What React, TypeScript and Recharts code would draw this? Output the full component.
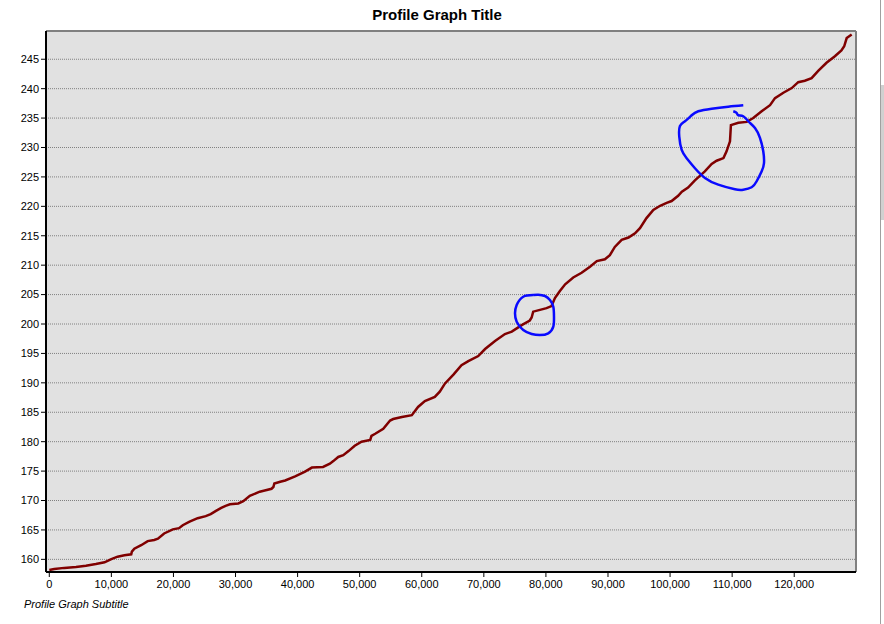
import { LineChart, Line, XAxis, YAxis, CartesianGrid, ReferenceLine } from 'recharts';

// profile: distance along the path (m) and elevation
const distances = [
  0, 800, 2400, 4300, 5900, 7500, 8900, 9900, 11000, 12100, 13200, 13300, 13700, 14800, 15850, 16900,
  17500, 18500, 19900, 20900, 21500, 22600, 23900, 25200, 26000, 26850, 27700, 28400, 29100, 30450,
  31250, 32300, 33900, 34700, 35800, 36100, 36250, 37200, 38000, 39600, 41200, 42300, 44100, 45200,
  45750, 46550, 47350, 48200, 49200, 50300, 51700, 51900, 52500, 53800, 54900, 55400, 56800, 58400,
  59400, 60500, 62100, 62900, 63750, 65100, 66400, 67500, 69100, 70200, 71800, 73400, 74500, 76100,
  77400, 77700, 77950, 80100, 80900, 81450, 82250, 83100, 84400, 85750, 87100, 88200, 89500, 90300,
  91100, 92200, 93300, 94350, 95150, 96200, 97300, 98400, 99450, 100250, 101300, 101900, 102900,
  104000, 105600, 106700, 107500, 108600, 109100, 109650, 109800, 111000, 112350, 113400, 114750,
  116100, 116900, 118250, 119600, 120650, 121700, 122800, 123900, 125200, 126550, 127600, 128050,
  128450, 129250,
];
const elevations = [
  158.2, 158.35, 158.55, 158.7, 158.9, 159.2, 159.5, 160.0, 160.45, 160.7, 160.85, 161.3, 161.8, 162.4,
  163.1, 163.3, 163.5, 164.4, 165.1, 165.3, 165.8, 166.4, 167.0, 167.35, 167.7, 168.25, 168.75, 169.1,
  169.35, 169.5, 169.9, 170.8, 171.5, 171.7, 172.0, 172.3, 172.9, 173.2, 173.4, 174.1, 174.9, 175.6,
  175.7, 176.25, 176.7, 177.4, 177.7, 178.4, 179.3, 180.0, 180.3, 181.0, 181.35, 182.2, 183.6, 183.85,
  184.2, 184.5, 185.9, 186.9, 187.6, 188.5, 189.9, 191.4, 193.0, 193.7, 194.55, 195.75, 197.1, 198.3,
  198.7, 199.8, 200.6, 201.1, 202.1, 202.7, 203.05, 204.4, 205.6, 206.75, 207.9, 208.7, 209.75, 210.7,
  211.0, 211.7, 213.1, 214.3, 214.7, 215.4, 216.3, 218.0, 219.4, 220.1, 220.6, 220.9, 221.8, 222.5,
  223.2, 224.4, 225.95, 227.2, 227.75, 228.2, 229.35, 231.05, 233.8, 234.2, 234.35, 235.0, 236.15,
  237.2, 238.4, 239.3, 240.1, 241.1, 241.35, 241.8, 243.05, 244.4, 245.5, 246.5, 247.2, 248.6, 249.2,
];

// hand-drawn blue marks, in chart units
const bigLoopX = [
  111790, 109370, 106700, 104540, 103480, 102400, 101590, 101480, 101870, 102670, 104010, 105620,
  107760, 110450, 111790, 113140, 113950, 114760, 115130, 115010, 114480, 113680, 112600, 111790,
  110990, 110730, 110180,
];
const bigLoopY = [
  237.18, 236.94, 236.6, 236.16, 235.48, 234.46, 233.66, 231.84, 229.58, 228.17, 226.47, 224.82,
  223.68, 222.9, 222.83, 223.24, 224.26, 225.96, 227.37, 229.36, 231.62, 233.32, 234.46, 235.31,
  235.48, 235.87, 236.16,
];
const smallLoopX = [
  77960, 76350, 75290, 75020, 75290, 76350, 77710, 79040, 80380, 81190, 81300, 81190, 80650, 79850,
  78770, 77960,
];
const smallLoopY = [
  204.93, 204.64, 203.23, 201.82, 200.39, 198.98, 198.3, 198.13, 198.42, 199.54, 201.24, 202.94,
  204.08, 204.76, 204.98, 204.93,
];

const yTicks = [160, 165, 170, 175, 180, 185, 190, 195, 200, 205, 210, 215, 220, 225, 230, 235, 240, 245];
const xTicks = [0, 10000, 20000, 30000, 40000, 50000, 60000, 70000, 80000, 90000, 100000, 110000, 120000];

const X_MIN = -530;
const X_MAX = 129950;
const Y_MIN = 157.85;
const Y_MAX = 249.8;

const zip = (xs: number[], ys: number[]) => xs.map((x, i) => ({ x, y: ys[i] }));

const profile = zip(distances, elevations);
const bigLoop = zip(bigLoopX, bigLoopY);
const smallLoop = zip(smallLoopX, smallLoopY);

const tickFont = { fontFamily: '"Liberation Sans", Arial, sans-serif', fontSize: 11, fill: '#000' };

export default function App() {
  return (
    <div style={{ position: 'absolute', left: 0, top: 0, width: 884, height: 624, background: '#fff' }}>
      <div
        style={{
          position: 'absolute', left: 0, top: 7, width: 874, textAlign: 'center',
          fontFamily: '"Liberation Sans", Arial, sans-serif', fontWeight: 'bold', fontSize: 15, lineHeight: '15px',
        }}
      >
        Profile Graph Title
      </div>
      <LineChart width={884} height={624} margin={{ top: 31, right: 28, left: 0, bottom: 22 }}>
        <CartesianGrid
          vertical={false}
          fill="#e1e1e1"
          stroke="#808080"
          strokeDasharray="1 1"
        />
        <XAxis
          type="number"
          dataKey="x"
          domain={[X_MIN, X_MAX]}
          allowDataOverflow
          ticks={xTicks}
          tickFormatter={(v: number) => v.toLocaleString('en-US')}
          height={30}
          tickSize={5}
          tickMargin={3}
          tick={tickFont}
          axisLine={{ stroke: '#000', strokeWidth: 2 }}
          tickLine={{ stroke: '#000' }}
        />
        <YAxis
          type="number"
          dataKey="y"
          domain={[Y_MIN, Y_MAX]}
          allowDataOverflow
          ticks={yTicks}
          width={46}
          tickSize={5}
          tickMargin={2}
          tick={tickFont}
          axisLine={{ stroke: '#000', strokeWidth: 2 }}
          tickLine={{ stroke: '#000' }}
        />
        <ReferenceLine y={Y_MAX} stroke="#808080" strokeWidth={2} />
        <ReferenceLine x={X_MAX} stroke="#808080" strokeWidth={2} />
        <Line
          data={profile}
          dataKey="y"
          type="linear"
          stroke="#800000"
          strokeWidth={2.5}
          dot={false}
          isAnimationActive={false}
        />
        <Line
          data={bigLoop}
          dataKey="y"
          type="natural"
          stroke="#0a0aff"
          strokeWidth={2.5}
          dot={false}
          isAnimationActive={false}
        />
        <Line
          data={smallLoop}
          dataKey="y"
          type="natural"
          stroke="#0a0aff"
          strokeWidth={2.5}
          dot={false}
          isAnimationActive={false}
        />
      </LineChart>
      <div
        style={{
          position: 'absolute', left: 24, top: 599,
          fontFamily: '"Liberation Sans", Arial, sans-serif', fontStyle: 'italic', fontSize: 11, lineHeight: '11px',
        }}
      >
        Profile Graph Subtitle
      </div>
      <div style={{ position: 'absolute', left: 880, top: 0, width: 1, height: 624, background: '#a0a0a0' }} />
      <div style={{ position: 'absolute', left: 881, top: 85, width: 3, height: 135, background: '#d0d0d0' }} />
    </div>
  );
}
